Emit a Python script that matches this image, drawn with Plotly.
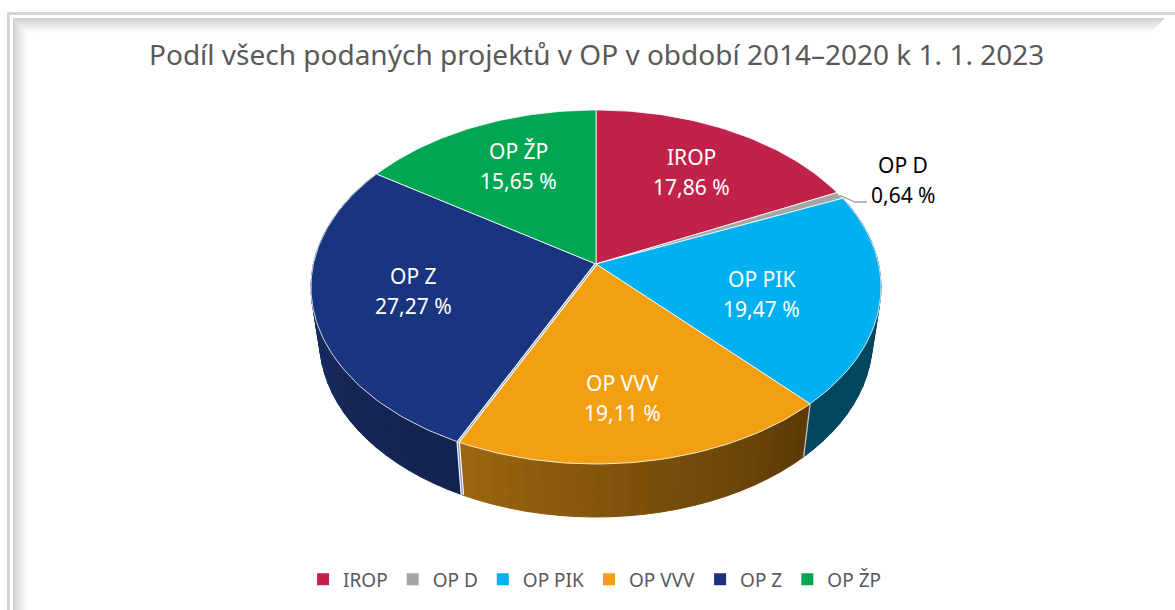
import math
import plotly.graph_objects as go

categories = ["IROP", "OP D", "OP PIK", "OP VVV", "OP Z", "OP ŽP"]
values = [17.86, 0.64, 19.47, 19.11, 27.27, 15.65]
title_text = "Podíl všech podaných projektů v OP v období 2014–2020 k 1. 1. 2023"

colors = ["#C1224A", "#A5A5A5", "#00B0F0", "#F29F12", "#1A3580", "#00A651"]
label_centres = [(691, 172), (903, 180), (761, 294), (622, 398), (413, 291), (518, 166)]
label_colors = ["white", "black", "white", "white", "white", "white"]
# wall colour at the slice's start and end (going clockwise)
wall_colors = [None, None, ("#03465F", "#03465F"), ("#5C3A06", "#9B6610"), ("#12234F", "#1A3068"), None]

W, H = 1175, 610
CX, CY, RX, RY, PERSP = 596, 264, 282.6, 174, 0.13
DEPTH, BOTTOM_SCALE = 53, 0.97


def project(frac, r=1.0, lower=False):
    t = 2 * math.pi * frac
    u, v = r * math.sin(t), -r * math.cos(t)
    w = 1 - PERSP * v
    x, y = RX * u / w, RY * v / w
    if lower:
        return CX + BOTTOM_SCALE * x, CY + y + DEPTH
    return CX + x, CY + y


def mix(c1, c2, a):
    p = [int(c1[i:i + 2], 16) for i in (1, 3, 5)]
    q = [int(c2[i:i + 2], 16) for i in (1, 3, 5)]
    return "rgb(%d,%d,%d)" % tuple(round(p[k] + (q[k] - p[k]) * a) for k in range(3))


total = sum(values)
bounds = [0.0]
for val in values:
    bounds.append(bounds[-1] + val / total)

fig = go.Figure()


def poly(xs, ys, fill, line=None, lw=1.0):
    fig.add_trace(go.Scatter(x=xs, y=ys, mode="lines", fill="toself", fillcolor=fill,
                             line=dict(color=line or fill, width=lw),
                             showlegend=False, hoverinfo="skip"))


def stroke(pts, color, lw):
    fig.add_trace(go.Scatter(x=[p[0] for p in pts], y=[p[1] for p in pts], mode="lines",
                             line=dict(color=color, width=lw), showlegend=False, hoverinfo="skip"))


# side walls
for i, wc in enumerate(wall_colors):
    if wc is None:
        continue
    a, b = bounds[i], bounds[i + 1]
    n = max(4, int((b - a) * 120))
    for k in range(n):
        f0, f1 = a + (b - a) * k / n, a + (b - a) * (k + 1) / n
        p = [project(f0), project(f1), project(f1, lower=True), project(f0, lower=True)]
        col = mix(wc[0], wc[1], (k + 0.5) / n)
        poly([q[0] for q in p] + [p[0][0]], [q[1] for q in p] + [p[0][1]], col)

# light seams on the wall
stroke([project(bounds[3]), project(bounds[3], lower=True)], "#C9C9C9", 1.2)
stroke([project(bounds[4]), project(bounds[4], lower=True)], "white", 3.5)
stroke([project(bounds[4]), project(bounds[4], lower=True)], "#8093BE", 1.2)

# top faces
for i, col in enumerate(colors):
    a, b = bounds[i], bounds[i + 1]
    n = max(3, int((b - a) * 300))
    pts = [project(a + (b - a) * k / n) for k in range(n + 1)]
    xs = [CX] + [p[0] for p in pts] + [CX]
    ys = [CY] + [p[1] for p in pts] + [CY]
    poly(xs, ys, col, "white", 0.8)

# double seam between OP VVV and OP Z
stroke([(CX, CY), project(bounds[4])], "white", 3.0)
stroke([(CX, CY), project(bounds[4])], "#8093BE", 1.0)

# leader line of OP D
leader_start = project((bounds[1] + bounds[2]) / 2)
stroke([leader_start, (855, 202), (867, 202)], "#A5A5A5", 1.3)

# legend
for name, col in zip(categories, colors):
    fig.add_trace(go.Scatter(x=[None], y=[None], mode="markers", name=name,
                             marker=dict(symbol="square", size=7, color=col)))

# frame with soft inner shadow
shapes = []


def band(path, col):
    shapes.append(dict(type="path", path=path, fillcolor=col, line=dict(width=0), layer="below",
                       xref="x", yref="y"))


band(f"M7,12 H{W} V15 H10 V{H} H7 Z", "#D6D6D6")
steps = 16
for s in range(steps):
    col = mix("#CFCFCF", "#FFFFFF", (s / (steps - 1)) ** 0.8)
    x0, y0 = 13 + s, 18 + s
    band(f"M{x0},{y0} H{W - 10 - s} L{W - 10 - s - 1},{y0 + 1} H{x0 + 1} V{H} H{x0} Z", col)

# texts
annotations = [dict(text=title_text, x=596, y=54, xref="x", yref="y", showarrow=False,
                    font=dict(family="Noto Sans", size=28, color="#595959"))]
for name, val, (lx, ly), lc in zip(categories, values, label_centres, label_colors):
    pct = f"{val:.2f}".replace(".", ",") + " %"
    annotations.append(dict(text=name, x=lx, y=ly - 15, xref="x", yref="y", showarrow=False,
                            font=dict(family="Noto Sans", size=21, color=lc)))
    annotations.append(dict(text=pct, x=lx, y=ly + 15, xref="x", yref="y", showarrow=False,
                            font=dict(family="Noto Sans", size=21, color=lc)))

fig.update_layout(
    width=W, height=H, margin=dict(l=0, r=0, t=0, b=0),
    paper_bgcolor="white", plot_bgcolor="rgba(0,0,0,0)",
    xaxis=dict(range=[0, W], visible=False, fixedrange=True),
    yaxis=dict(range=[H, 0], visible=False, fixedrange=True),
    shapes=shapes, annotations=annotations,
    legend=dict(orientation="h", x=0.506, xanchor="center", y=0.05, yanchor="middle",
                font=dict(family="Noto Sans", size=19, color="#595959"),
                itemsizing="constant", traceorder="normal", bgcolor="rgba(0,0,0,0)"),
)

fig.write_html("out.html", config={"displayModeBar": False},
               post_script="document.body.style.margin='0';document.body.style.overflow='hidden';")
